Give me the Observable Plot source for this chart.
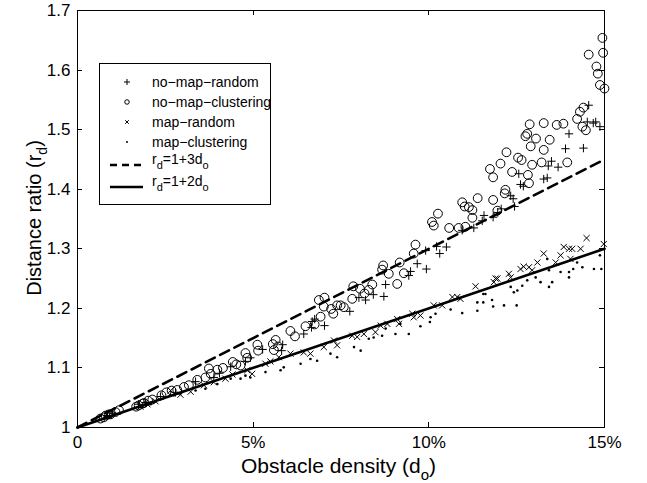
<!DOCTYPE html>
<html><head><meta charset="utf-8">
<script src="https://cdn.jsdelivr.net/npm/d3@7"></script>
<script src="https://cdn.jsdelivr.net/npm/@observablehq/plot@0.6"></script>
<style>
body{margin:0;background:#fff}
#chart svg{font-family:"Liberation Sans",Arial,Helvetica,sans-serif}
</style>
</head><body><div id="chart"></div>
<script>
// ---- axis ticks ----
const xTicks = [0, 0.05, 0.10, 0.15];
const xTickLabels = ["0", "5%", "10%", "15%"];
const yTicks = [1, 1.1, 1.2, 1.3, 1.4, 1.5, 1.6, 1.7];
const yTickLabels = ["1", "1.1", "1.2", "1.3", "1.4", "1.5", "1.6", "1.7"];

// ---- series (x in percent obstacle density, y = distance ratio) ----
const noMapRandomX = [14.55,14.51,14.68,14.75,14.87,13.99,13.89,14.40,13.49,13.68,13.40,12.56,12.61,12.69,13.27,13.37,12.33,12.40,12.44,12.06,11.96,11.83,11.57,11.52,11.28,10.95,10.22,10.50,10.31,9.91,9.67,9.93,9.48,9.43,8.77,8.72,8.42,8.20,8.01,6.75,7.03,6.68,7.75,6.66,6.44,5.84,5.81,4.92,4.78,4.04,3.88,0.85,1.00,1.74,1.94,2.36,2.79,3.36,4.36,5.27];
const noMapRandomY = [1.541,1.513,1.511,1.513,1.505,1.493,1.468,1.469,1.447,1.437,1.439,1.426,1.408,1.405,1.417,1.419,1.389,1.384,1.371,1.367,1.361,1.353,1.356,1.347,1.335,1.331,1.304,1.303,1.292,1.297,1.275,1.266,1.262,1.255,1.240,1.220,1.223,1.214,1.218,1.182,1.171,1.178,1.195,1.168,1.157,1.139,1.129,1.117,1.111,1.091,1.084,1.020,1.024,1.039,1.042,1.052,1.059,1.077,1.102,1.131];

const noMapClusterX = [14.94,14.55,14.96,14.77,14.81,14.87,15.00,14.40,14.30,14.22,14.37,14.47,12.87,13.27,13.64,13.83,12.80,12.75,13.05,13.44,12.90,13.27,12.21,12.04,12.54,12.64,12.94,13.21,13.94,11.74,11.83,12.37,12.82,12.85,12.18,12.16,11.39,11.83,10.95,11.02,11.14,11.24,10.26,10.09,10.14,10.58,10.85,11.04,11.24,11.95,9.62,9.57,9.17,8.70,8.67,8.86,9.29,9.10,8.39,8.29,8.04,7.85,7.82,8.17,7.03,6.87,7.01,7.22,7.28,7.49,7.58,6.92,6.49,6.75,6.06,6.19,5.64,5.56,5.71,5.59,5.12,5.14,4.78,4.83,4.42,4.52,4.64,3.74,3.98,4.14,3.79,3.64,3.41,3.17,3.03,2.84,2.68,2.39,2.01,1.89,1.74,1.67,1.18,1.08,0.89,0.80,0.75,0.65,0.94,1.85,2.13,2.53,7.39];
const noMapClusterY = [1.654,1.626,1.629,1.606,1.594,1.575,1.569,1.537,1.530,1.518,1.505,1.499,1.509,1.511,1.508,1.510,1.493,1.489,1.485,1.483,1.472,1.466,1.462,1.443,1.453,1.449,1.441,1.445,1.445,1.434,1.420,1.429,1.424,1.410,1.399,1.393,1.385,1.382,1.378,1.371,1.370,1.365,1.359,1.345,1.339,1.335,1.335,1.337,1.352,1.364,1.307,1.292,1.277,1.272,1.265,1.258,1.259,1.241,1.240,1.231,1.233,1.237,1.216,1.225,1.218,1.214,1.203,1.199,1.191,1.205,1.202,1.186,1.170,1.173,1.162,1.153,1.147,1.140,1.136,1.130,1.139,1.129,1.125,1.117,1.110,1.106,1.104,1.099,1.097,1.100,1.090,1.084,1.080,1.071,1.068,1.063,1.062,1.054,1.045,1.041,1.037,1.035,1.029,1.026,1.022,1.020,1.017,1.015,1.022,1.040,1.047,1.059,1.205];

const mapRandomX = [14.98,14.49,14.32,14.08,13.99,13.84,13.75,13.61,14.03,13.27,13.09,12.94,12.85,12.70,12.61,12.33,12.28,11.95,11.90,11.85,11.33,10.90,10.81,10.67,10.38,10.14,9.76,9.57,9.53,9.15,9.10,8.82,8.63,8.48,8.15,7.96,7.82,7.39,7.30,7.01,6.63,6.44,6.06,5.73,4.97,4.83,3.88,3.60,2.65,0.77,0.88,1.79,1.99,2.22,2.93,3.22,4.21,4.41,5.35,5.49];
const mapRandomY = [1.308,1.318,1.300,1.300,1.300,1.303,1.289,1.277,1.283,1.292,1.277,1.264,1.269,1.270,1.266,1.252,1.258,1.250,1.250,1.244,1.237,1.216,1.219,1.219,1.205,1.205,1.188,1.185,1.191,1.174,1.182,1.174,1.171,1.160,1.157,1.152,1.154,1.138,1.146,1.135,1.124,1.126,1.124,1.118,1.090,1.096,1.076,1.071,1.062,1.018,1.020,1.035,1.039,1.044,1.055,1.060,1.082,1.089,1.107,1.111];

const mapClusterX = [14.91,14.70,14.87,14.37,14.22,14.11,13.99,13.99,13.75,13.42,13.37,13.51,13.42,13.18,13.04,12.80,12.66,12.52,12.42,12.33,12.14,12.50,11.83,11.80,11.61,11.55,11.55,11.38,11.38,10.95,10.62,10.19,10.05,10.03,9.76,9.43,9.19,9.05,8.77,8.67,8.43,8.29,8.06,7.87,7.39,7.20,6.82,6.63,6.35,5.87,5.78,5.35,4.92,4.78,4.36,3.98,2.93,2.74,0.80,0.94,1.85,2.08,3.36,3.64,4.64];
const mapClusterY = [1.266,1.266,1.289,1.269,1.277,1.266,1.261,1.252,1.261,1.264,1.283,1.244,1.236,1.244,1.252,1.247,1.238,1.230,1.227,1.236,1.205,1.205,1.203,1.214,1.224,1.224,1.210,1.196,1.210,1.192,1.198,1.191,1.185,1.177,1.170,1.157,1.174,1.157,1.166,1.154,1.151,1.149,1.129,1.135,1.118,1.124,1.112,1.115,1.107,1.101,1.096,1.093,1.084,1.087,1.082,1.073,1.057,1.054,1.017,1.018,1.035,1.039,1.062,1.065,1.082];

// reference lines r_d = 1 + 3 d_o and r_d = 1 + 2 d_o (endpoints)
const refX = [0, 0.15];
const ref3Y = [1, 1.45];
const ref2Y = [1, 1.30];

const legendLabels = ["no\u2212map\u2212random", "no\u2212map\u2212clustering", "map\u2212random", "map\u2212clustering"];

// ---- build tables ----
const pts = (X, Y) => X.map((x, i) => ({x: x / 100, y: Y[i]}));
const nmr = pts(noMapRandomX, noMapRandomY);
const nmc = pts(noMapClusterX, noMapClusterY);
const mr = pts(mapRandomX, mapRandomY);
const mc = pts(mapClusterX, mapClusterY);
const ref3 = refX.map((x, i) => ({x, y: ref3Y[i]}));
const ref2 = refX.map((x, i) => ({x, y: ref2Y[i]}));

const FONT = '"Liberation Sans", Arial, Helvetica, sans-serif';
const xFmt = d => xTickLabels[xTicks.indexOf(d)];
const yFmt = d => yTickLabels[yTicks.indexOf(d)];

const plot = Plot.plot({
  width: 647, height: 483,
  marginLeft: 77, marginRight: 43, marginTop: 10, marginBottom: 56,
  style: {fontFamily: FONT, fontSize: "17px", background: "white", color: "black", overflow: "visible"},
  x: {domain: [0, 0.15]},
  y: {domain: [1, 1.7]},
  marks: [
    Plot.line(ref3, {x: "x", y: "y", stroke: "black", strokeWidth: 2.6, strokeDasharray: "10,6"}),
    Plot.line(ref2, {x: "x", y: "y", stroke: "black", strokeWidth: 2.6}),
    Plot.dot(mc, {x: "x", y: "y", r: 1.3, fill: "black", stroke: null}),
    Plot.dot(mr, {x: "x", y: "y", symbol: "times", r: 2.9, stroke: "black", strokeWidth: 1}),
    Plot.dot(nmr, {x: "x", y: "y", symbol: "plus", r: 2.8, stroke: "black", strokeWidth: 1}),
    Plot.dot(nmc, {x: "x", y: "y", symbol: "circle", r: 4.4, stroke: "black", fill: "none", strokeWidth: 1}),
    Plot.frame({stroke: "black", strokeWidth: 1}),
    Plot.axisX({ticks: xTicks, tickFormat: xFmt, tickSize: 0, tickPadding: 8, label: null}),
    Plot.axisY({ticks: yTicks, tickFormat: yFmt, tickSize: 0, tickPadding: 7, label: null})
  ]
});
document.getElementById("chart").appendChild(plot);

const svg = d3.select(plot);
const sx = plot.scale("x"), sy = plot.scale("y");
const [X0, X1] = sx.range, [Y0, Y1] = sy.range; // Y0 bottom, Y1 top
const TL = 5;

// inward ticks on all four sides (positions from the plot's own scales)
const tg = svg.append("g").attr("stroke", "black").attr("stroke-width", 1);
xTicks.forEach(t => {
  const px = Math.round(sx.apply(t)) + 0.5;
  tg.append("line").attr("x1", px).attr("x2", px).attr("y1", Y0).attr("y2", Y0 - TL);
  tg.append("line").attr("x1", px).attr("x2", px).attr("y1", Y1).attr("y2", Y1 + TL);
});
yTicks.forEach(t => {
  const py = Math.round(sy.apply(t)) + 0.5;
  tg.append("line").attr("y1", py).attr("y2", py).attr("x1", X0).attr("x2", X0 + TL);
  tg.append("line").attr("y1", py).attr("y2", py).attr("x1", X1).attr("x2", X1 - TL);
});

// axis titles with subscripts
const xt = svg.append("text").attr("x", (X0 + X1) / 2 - 2).attr("y", 473).attr("text-anchor", "middle")
  .attr("font-family", FONT).attr("font-size", 21).attr("fill", "black");
xt.append("tspan").text("Obstacle density (d");
xt.append("tspan").attr("dy", 7).attr("font-size", 15).text("o");
xt.append("tspan").attr("dy", -7).text(")");

const yt = svg.append("text").attr("transform", "translate(41,218) rotate(-90)").attr("text-anchor", "middle")
  .attr("font-family", FONT).attr("font-size", 20).attr("fill", "black");
yt.append("tspan").text("Distance ratio (r");
yt.append("tspan").attr("dy", 6).attr("font-size", 14).text("d");
yt.append("tspan").attr("dy", -6).text(")");

// legend
const lg = svg.append("g").attr("font-family", FONT).attr("font-size", 14).attr("fill", "black")
  .attr("text-anchor", "start");
lg.append("rect").attr("x", 99.5).attr("y", 63.5).attr("width", 171).attr("height", 141)
  .attr("fill", "white").attr("stroke", "black").attr("stroke-width", 1);
const symRows = [
  {sym: d3.symbolPlus, size: 14, fill: "none", y: 82},
  {sym: d3.symbolCircle, size: 16, fill: "none", y: 102},
  {sym: d3.symbolTimes, size: 10, fill: "none", y: 122},
  {sym: d3.symbolCircle, size: 3, fill: "black", y: 142}
];
symRows.forEach((r, i) => {
  lg.append("path").attr("d", d3.symbol(r.sym, r.size)())
    .attr("transform", `translate(127,${r.y})`)
    .attr("fill", r.fill).attr("stroke", r.fill === "black" ? "none" : "black").attr("stroke-width", 1);
  lg.append("text").attr("x", 152).attr("y", r.y + 5).attr("text-anchor", "start").text(legendLabels[i]);
});
const lineRows = [{dash: "7,5", y: 165, k: "3"}, {dash: null, y: 187, k: "2"}];
lineRows.forEach(r => {
  const ln = lg.append("line").attr("x1", 110).attr("x2", 143).attr("y1", r.y).attr("y2", r.y)
    .attr("stroke", "black").attr("stroke-width", 2.6);
  if (r.dash) ln.attr("stroke-dasharray", r.dash);
  const t = lg.append("text").attr("x", 152).attr("y", r.y - 1).attr("text-anchor", "start");
  t.append("tspan").text("r");
  t.append("tspan").attr("dy", 5).attr("font-size", 11).text("d");
  t.append("tspan").attr("dy", -5).text(`=1+${r.k}d`);
  t.append("tspan").attr("dy", 5).attr("font-size", 11).text("o");
});
</script>
</body></html>
